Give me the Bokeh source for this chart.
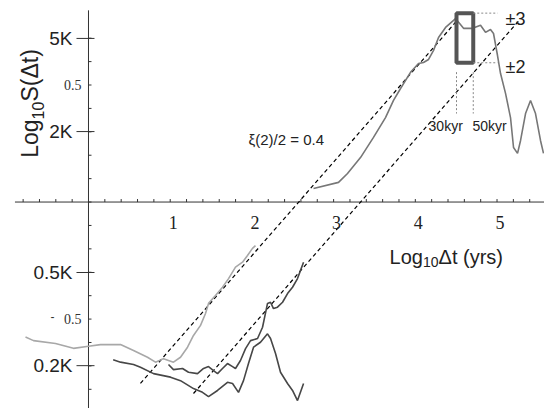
import numpy as np
from bokeh.plotting import figure
from bokeh.models import Range1d
from bokeh.core.properties import value
from bokeh.embed import file_html
from bokeh.resources import INLINE

# ---------------- data (x = log10 dt [yrs], y = log10 S) ----------------
upper_x = [2.754, 3.060, 3.170, 3.329, 3.488, 3.635, 3.733, 3.819, 3.941, 4.039, 4.100, 4.162,
           4.223, 4.284, 4.370, 4.468, 4.492, 4.590, 4.700, 4.798, 4.859, 4.920, 4.957, 5.006,
           5.043, 5.104, 5.165, 5.202, 5.251, 5.288, 5.349, 5.410, 5.471, 5.532, 5.569]
upper_y = [3.058, 3.084, 3.122, 3.190, 3.276, 3.361, 3.434, 3.485, 3.554, 3.592, 3.596, 3.609,
           3.648, 3.703, 3.746, 3.776, 3.784, 3.742, 3.742, 3.755, 3.725, 3.737, 3.720, 3.626,
           3.549, 3.464, 3.361, 3.233, 3.208, 3.263, 3.378, 3.434, 3.378, 3.263, 3.208]

light_x = [-0.771, -0.673, -0.404, -0.184, 0.0, 0.147, 0.392, 0.551, 0.722, 0.820, 0.918, 1.040,
           1.126, 1.212, 1.285, 1.371, 1.432, 1.469, 1.554, 1.640, 1.714, 1.799, 1.885, 1.946,
           2.007, 2.044]
light_y = [2.423, 2.408, 2.396, 2.375, 2.384, 2.391, 2.391, 2.366, 2.337, 2.316, 2.331, 2.316,
           2.337, 2.380, 2.430, 2.473, 2.524, 2.567, 2.601, 2.636, 2.673, 2.722, 2.743, 2.772,
           2.802, 2.814]

dark1_x = [0.302, 0.392, 0.551, 0.636, 0.796, 1.004, 1.126, 1.285, 1.395, 1.469, 1.579, 1.701,
           1.763, 1.836, 1.897, 1.958, 2.020, 2.105, 2.191, 2.228, 2.289, 2.350, 2.436, 2.497,
           2.558, 2.632]
dark1_y = [2.326, 2.316, 2.306, 2.294, 2.267, 2.252, 2.237, 2.203, 2.187, 2.169, 2.195, 2.230,
           2.225, 2.187, 2.237, 2.310, 2.380, 2.401, 2.437, 2.417, 2.353, 2.273, 2.225, 2.195,
           2.152, 2.225]

dark2_x = [0.979, 1.040, 1.151, 1.224, 1.334, 1.408, 1.469, 1.530, 1.579, 1.640, 1.701, 1.763,
           1.799, 1.860, 1.922, 1.983, 2.069, 2.130, 2.191, 2.228, 2.264, 2.313, 2.375, 2.436,
           2.497, 2.558, 2.595, 2.632]
dark2_y = [2.306, 2.284, 2.289, 2.273, 2.267, 2.289, 2.297, 2.280, 2.267, 2.289, 2.310, 2.297,
           2.289, 2.323, 2.374, 2.408, 2.417, 2.465, 2.567, 2.572, 2.545, 2.551, 2.572, 2.609,
           2.636, 2.673, 2.708, 2.743]

# scaling-law guide lines: y = slope * x + intercept
slope = 0.4
fitA_x = [0.636, 4.517]
fitA_b = 1.971
fitB_x = [1.285, 5.263]
fitB_b = 1.668

# 30kyr / 50kyr window
win_x = [4.504, 4.709]
win_y = [3.595, 3.807]

# axis tick labels
xtick_vals = [1, 2, 3, 4, 5]
xtick_labels = ["1", "2", "3", "4", "5"]
ymajor_vals = [np.log10(5000), np.log10(2000), np.log10(500), np.log10(200)]
ymajor_labels = ["5K", "2K", "0.5K", "0.2K"]
yhalf_vals = [3.5, 2.5]
yhalf_labels = ["0.5", "0.5"]

# ---------------- figure ----------------
X0, X1 = -1.077, 5.581
Y0, Y1 = 2.118, 3.861
PX = (X1 - X0) / 544.0   # data units per pixel, x
PY = (Y1 - Y0) / 408.0   # data units per pixel, y

p = figure(width=544, height=408, output_backend="svg", toolbar_location=None,
           x_range=Range1d(X0, X1), y_range=Range1d(Y0, Y1),
           x_axis_location=None, y_axis_location=None, min_border=0)
p.grid.visible = False
p.outline_line_color = None
p.background_fill_color = "white"

AX = "#333333"
TXT = "#222222"
SANS = value("Liberation Sans")
SERIF = value("Liberation Serif")

# axes lines
p.line([0, 0], [Y0, 3.819], line_color=AX, line_width=1)
p.line([-0.90, X1], [3.0, 3.0], line_color=AX, line_width=1)

# x ticks every 0.2
xt = np.round(np.arange(-0.8, 5.5, 0.2), 2)
xt = xt[np.abs(xt) > 1e-9]
p.segment(x0=xt, y0=[3.0] * len(xt), x1=xt, y1=[3.0 + 3 * PY] * len(xt), line_color=AX, line_width=1)

# y minor ticks every 0.1
yt = np.round(np.arange(2.2, 3.75, 0.1), 2)
p.segment(x0=[0] * len(yt), y0=yt, x1=[3 * PX] * len(yt), y1=yt, line_color=AX, line_width=1)
# y major ticks
p.segment(x0=[-12 * PX] * 4, y0=ymajor_vals, x1=[6 * PX] * 4, y1=ymajor_vals, line_color=AX, line_width=1)

# guide lines
p.line(fitA_x, [slope * v + fitA_b for v in fitA_x], line_color="black", line_width=1.2, line_dash="4 3")
p.line(fitB_x, [slope * v + fitB_b for v in fitB_x], line_color="black", line_width=1.2, line_dash="4 3")

# curves
p.line(upper_x, upper_y, line_color="#777777", line_width=1.6)
p.line(light_x, light_y, line_color="#a8a8a8", line_width=1.6)
p.line(dark1_x, dark1_y, line_color="#474747", line_width=1.6)
p.line(dark2_x, dark2_y, line_color="#474747", line_width=1.6)

# window box and dotted guides
p.quad(left=win_x[0], right=win_x[1], bottom=win_y[0], top=win_y[1],
       fill_color=None, line_color="#555555", line_width=4)
p.segment(x0=[win_x[1], win_x[1]], y0=[win_y[1], win_y[0]], x1=[5.006, 5.006], y1=[win_y[1], win_y[0]],
          line_color="#888888", line_width=1, line_dash="2 2")
p.segment(x0=win_x, y0=[3.555, 3.555], x1=win_x, y1=[3.378, 3.378],
          line_color="#888888", line_width=1, line_dash="2 2")

# tick labels
p.text(x=[v + 3 * PX for v in xtick_vals], y=[2.913] * 5, text=xtick_labels,
       text_font=SERIF, text_font_size="18px", text_color=TXT,
       text_align="center", text_baseline="middle")
p.text(x=[-16 * PX] * 4, y=ymajor_vals, text=ymajor_labels,
       text_font=SANS, text_font_size="19px", text_color=TXT,
       text_align="right", text_baseline="middle")
p.text(x=[-7 * PX] * 2, y=yhalf_vals, text=yhalf_labels,
       text_font=SERIF, text_font_size="14px", text_color="#333333",
       text_align="right", text_baseline="middle")
p.text(x=[-0.44], y=[2.512], text=["-"], text_font=SANS, text_font_size="12px",
       text_color="#333333", text_align="center", text_baseline="middle")

# x axis title: Log_10 Δt (yrs)
p.text(x=[3.684], y=[2.764], text=["Log"], text_font=SANS, text_font_size="20px",
       text_color=TXT, text_align="left", text_baseline="middle")
p.text(x=[4.093], y=[2.742], text=["10"], text_font=SANS, text_font_size="14px",
       text_color=TXT, text_align="left", text_baseline="middle")
p.text(x=[4.284], y=[2.764], text=["Δt (yrs)"], text_font=SANS, text_font_size="20px",
       text_color=TXT, text_align="left", text_baseline="middle")

# y axis title: Log_10 S(Δt), rotated
p.text(x=[-0.710, -0.710], y=[3.271, 3.541], text=["Log", "S(Δt)"], text_font=SANS,
       text_font_size="23px", text_color=TXT, text_align="center", text_baseline="middle",
       angle=np.pi / 2)
p.text(x=[-0.624], y=[3.391], text=["10"], text_font=SANS, text_font_size="16px",
       text_color=TXT, text_align="center", text_baseline="middle", angle=np.pi / 2)

# annotations
p.text(x=[1.958], y=[3.267], text=["ξ(2)/2 = 0.4"], text_font=SANS,
       text_font_size="15px", text_color=TXT, text_align="left", text_baseline="middle")
p.text(x=[5.104, 5.104], y=[3.784, 3.579], text=["±3", "±2"], text_font=SANS,
       text_font_size="18px", text_color=TXT, text_align="left", text_baseline="middle")
p.text(x=[4.162, 4.700], y=[3.323, 3.323], text=["30kyr", "50kyr"], text_font=SANS,
       text_font_size="14px", text_color=TXT, text_align="left", text_baseline="middle")

open("out.html", "w").write(file_html(p, INLINE))
